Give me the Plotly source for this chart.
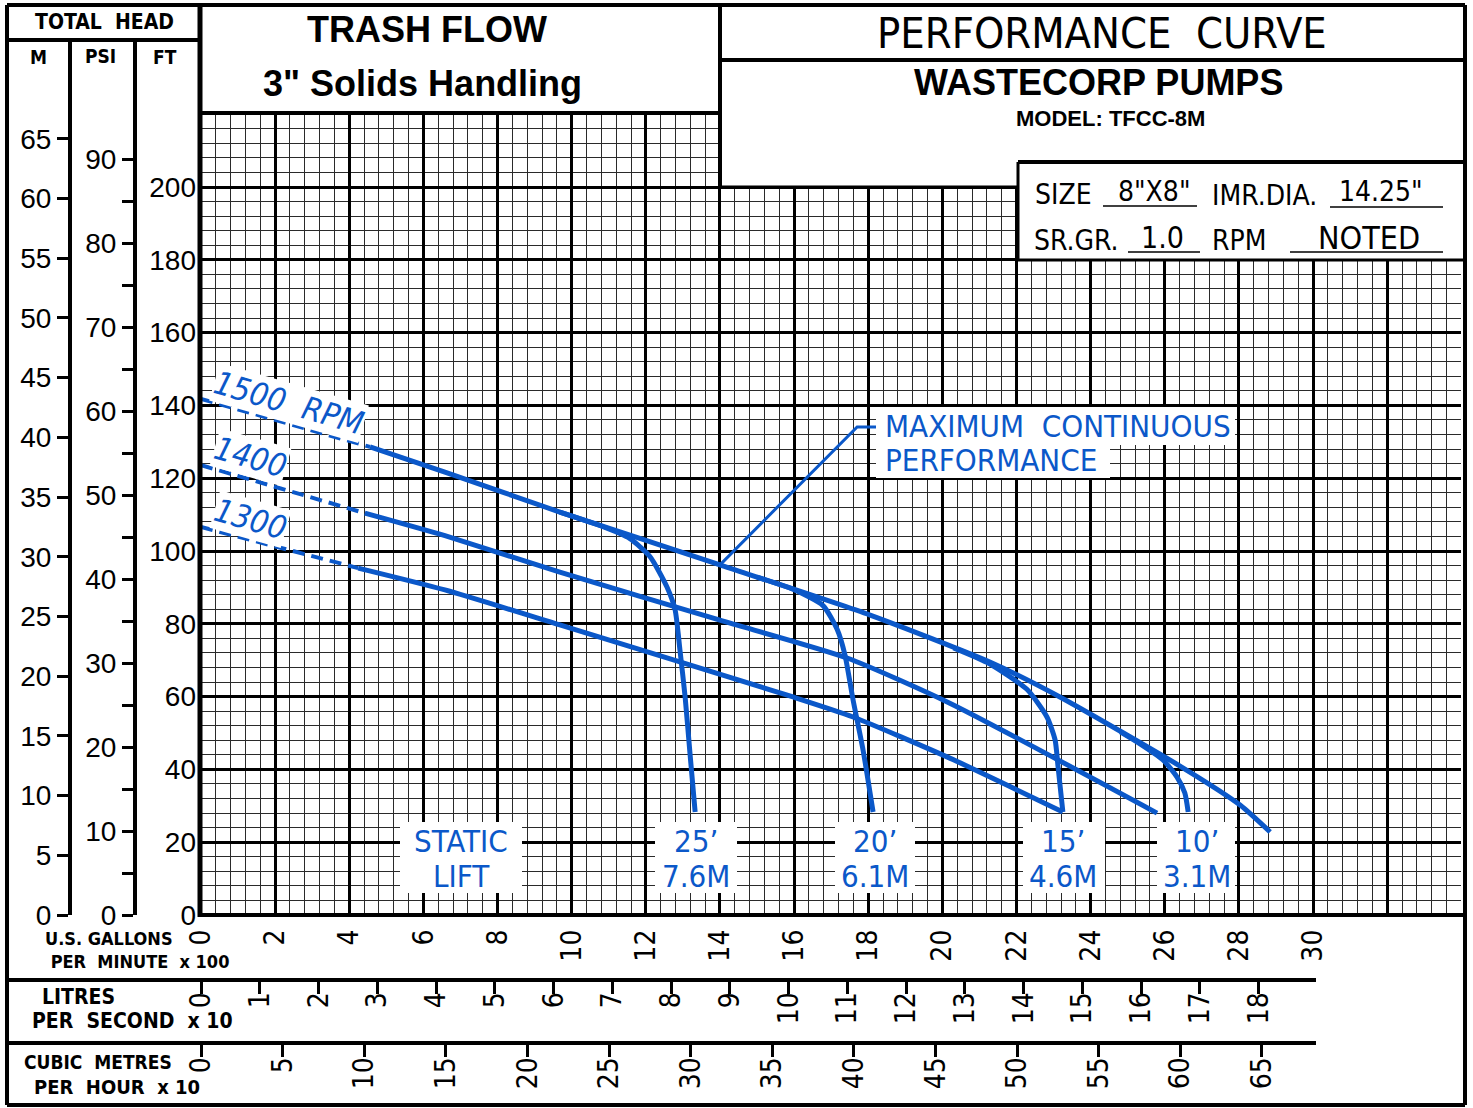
import plotly.graph_objects as go

W, H = 1473, 1108

# ---------------- data ----------------
# flow in US gallons per minute x 100, head in feet
rpm1500_dash_q = [0.0, 4.56]
rpm1500_dash_h = [141.8, 128.6]
rpm1500_q = [4.56, 6.58, 9.68, 14.0, 18.05, 21.28, 23.17, 26.41, 28.03, 28.84]
rpm1500_h = [128.6, 121.7, 110.7, 96.2, 82.4, 69.5, 59.9, 40.9, 30.2, 22.8]

rpm1400_dash_q = [0.0, 4.42]
rpm1400_dash_h = [123.6, 110.4]
rpm1400_q = [4.42, 6.58, 9.68, 14.0, 17.43, 20.2, 25.79]
rpm1400_h = [110.4, 104.2, 94.2, 81.0, 70.6, 58.2, 28.0]

rpm1300_dash_q = [0.0, 4.24]
rpm1300_dash_h = [106.6, 95.3]
rpm1300_q = [4.24, 6.58, 9.68, 15.97, 17.59, 20.2, 23.25]
rpm1300_h = [95.3, 89.3, 79.7, 59.9, 54.4, 43.1, 28.3]

# maximum continuous performance limits for each static lift
lift25_q = [9.68, 10.76, 11.57, 12.11, 12.57, 12.79, 12.92, 13.06, 13.19, 13.33]
lift25_h = [110.7, 107.0, 103.4, 98.5, 90.1, 83.8, 72.8, 59.9, 44.5, 28.3]
lift20_q = [15.0, 15.97, 16.78, 17.16, 17.37, 17.59, 17.86, 18.13]
lift20_h = [92.8, 89.5, 85.0, 78.5, 71.5, 59.1, 45.3, 28.3]
lift15_q = [20.3, 21.2, 22.28, 22.82, 23.04, 23.12, 23.25]
lift15_h = [73.4, 69.4, 62.0, 54.4, 48.1, 40.7, 28.3]
lift10_q = [24.8, 25.3, 25.95, 26.33, 26.54, 26.63]
lift10_h = [50.3, 47.2, 42.6, 37.9, 33.5, 28.3]

leader_q = [14.0, 17.70, 18.27]
leader_h = [96.2, 134.1, 134.1]

gpm_ticks = list(range(0, 31, 2))
lps_ticks = list(range(0, 19))
m3h_ticks = list(range(0, 66, 5))
ft_ticks = list(range(0, 201, 20))
m_ticks = list(range(0, 66, 5))
psi_ticks = list(range(0, 91, 5))

speed_labels = ["1500\u00a0\u00a0RPM", "1400", "1300"]
lift_labels = [("25\u2019", "7.6M"), ("20\u2019", "6.1M"), ("15\u2019", "4.6M"), ("10\u2019", "3.1M")]

# ---------------- geometry ----------------
X0, PXU = 201.0, 37.07      # pixel of zero flow, pixels per 100 gpm
Y0, PXF = 915.0, 3.64       # pixel of zero head, pixels per foot
QMAX, HMAX = 34, 220
GPM_PER_LPS10 = 1.58503      # 10 L/s in (gpm x 100)
GPM_PER_M3H10 = 0.4402868    # 10 m3/h in (gpm x 100)
FT_PER_M = 3.28084
FT_PER_PSI = 2.30666

def px(x):
    return x / W

def py(y):
    return 1 - y / H

def dq(xp):
    return (xp - X0) / PXU

def dh(yp):
    return (Y0 - yp) / PXF

BLUE = "#0b58c9"
NARROW = "Liberation Sans Narrow, DejaVu Sans Condensed, Arial Narrow, Roboto Condensed, Roboto, sans-serif"
SANS = "Liberation Sans, Arial, Helvetica, sans-serif"

fig = go.Figure()

def curve(q, h, width=5, dash=None):
    fig.add_trace(go.Scatter(
        x=q, y=h, mode="lines",
        line=dict(color=BLUE, width=width, dash=dash, shape="spline", smoothing=0.6),
        hoverinfo="skip", showlegend=False))

for dq_, dh_, q, h in [
    (rpm1500_dash_q, rpm1500_dash_h, rpm1500_q, rpm1500_h),
    (rpm1400_dash_q, rpm1400_dash_h, rpm1400_q, rpm1400_h),
    (rpm1300_dash_q, rpm1300_dash_h, rpm1300_q, rpm1300_h),
]:
    curve(dq_, dh_, width=4, dash="12px,7px")
    curve(q, h, width=5)

for q, h in [(lift25_q, lift25_h), (lift20_q, lift20_h),
             (lift15_q, lift15_h), (lift10_q, lift10_h)]:
    curve(q, h, width=5)

fig.add_trace(go.Scatter(x=leader_q, y=leader_h, mode="lines",
                         line=dict(color=BLUE, width=3),
                         hoverinfo="skip", showlegend=False))

# anchor traces for the auxiliary scales
for xa, ya in [("x2", "y4"), ("x3", "y4"), ("x4", "y2"), ("x4", "y3")]:
    fig.add_trace(go.Scatter(x=[0], y=[0], xaxis=xa, yaxis=ya, mode="markers",
                             marker=dict(opacity=0), hoverinfo="skip", showlegend=False))

# ---------------- axes ----------------
num_font = dict(family=SANS, size=28, color="black")
rot_font = dict(family=NARROW, size=28, color="black")

gx_vals = list(range(0, QMAX + 1, 2))
gy_vals = list(range(0, HMAX + 1, 20))

fig.update_layout(
    xaxis=dict(
        domain=[px(X0), px(X0 + QMAX * PXU)], range=[0, QMAX], anchor="y",
        tickmode="array", tickvals=gx_vals,
        ticktext=[str(v) if v in gpm_ticks else "" for v in gx_vals],
        ticks="", tickangle=-90, tickfont=rot_font, ticklabelstandoff=8,
        showgrid=True, gridcolor="black", gridwidth=3,
        minor=dict(tickmode="linear", tick0=0, dtick=0.4, showgrid=True,
                   gridcolor="#2a2a2a", gridwidth=1.4),
        zeroline=False, showline=False, fixedrange=True,
    ),
    yaxis=dict(
        domain=[py(Y0), py(Y0 - HMAX * PXF)], range=[0, HMAX], anchor="x",
        tickmode="array", tickvals=gy_vals,
        ticktext=[str(v) if v in ft_ticks else "" for v in gy_vals],
        ticks="", tickfont=num_font, ticklabelstandoff=4,
        showgrid=True, gridcolor="black", gridwidth=3,
        minor=dict(tickmode="linear", tick0=0, dtick=4, showgrid=True,
                   gridcolor="#2a2a2a", gridwidth=1.4),
        zeroline=False, showline=False, fixedrange=True,
    ),
    xaxis2=dict(
        domain=[px(7), px(1316)],
        range=[(7 - X0) / (PXU * GPM_PER_LPS10), (1316 - X0) / (PXU * GPM_PER_LPS10)],
        anchor="free", position=py(980), side="bottom",
        showline=True, linewidth=4, linecolor="black",
        ticks="outside", ticklen=12, tickwidth=3, tickcolor="black",
        tickmode="array", tickvals=lps_ticks, tickangle=-90, tickfont=rot_font,
        ticklabelstandoff=-13,
        showgrid=False, zeroline=False, fixedrange=True,
    ),
    xaxis3=dict(
        domain=[px(7), px(1316)],
        range=[(7 - X0) / (PXU * GPM_PER_M3H10), (1316 - X0) / (PXU * GPM_PER_M3H10)],
        anchor="free", position=py(1043), side="bottom",
        showline=True, linewidth=4, linecolor="black",
        ticks="outside", ticklen=12, tickwidth=3, tickcolor="black",
        tickmode="array", tickvals=m3h_ticks, tickangle=-90, tickfont=rot_font,
        ticklabelstandoff=-11,
        showgrid=False, zeroline=False, fixedrange=True,
    ),
    xaxis4=dict(domain=[0, 0.005], range=[0, 1], visible=False, anchor="y4"),
    yaxis4=dict(domain=[0, 0.005], range=[0, 1], visible=False, anchor="x4"),
    yaxis2=dict(
        domain=[py(Y0), py(40)], range=[0, (Y0 - 40) / (PXF * FT_PER_M)],
        anchor="free", position=px(70), side="left",
        showline=True, linewidth=4, linecolor="black",
        ticks="outside", ticklen=11, tickwidth=3, tickcolor="black",
        tickmode="array", tickvals=m_ticks, tickfont=num_font,
        showgrid=False, zeroline=False, fixedrange=True,
    ),
    yaxis3=dict(
        domain=[py(Y0), py(40)], range=[0, (Y0 - 40) / (PXF * FT_PER_PSI)],
        anchor="free", position=px(135), side="left",
        showline=True, linewidth=4, linecolor="black",
        ticks="outside", ticklen=11, tickwidth=3, tickcolor="black",
        tickmode="array", tickvals=psi_ticks,
        ticktext=[str(v) if v % 10 == 0 else "" for v in psi_ticks],
        tickfont=num_font,
        showgrid=False, zeroline=False, fixedrange=True,
    ),
)

# ---------------- frame and title block ----------------
shapes = []

def pline(x0, y0, x1, y1, w=4):
    shapes.append(dict(type="line", xref="paper", yref="paper",
                       x0=px(x0), y0=py(y0), x1=px(x1), y1=py(y1),
                       line=dict(color="black", width=w), layer="above"))

def prect(x0, y0, x1, y1):
    shapes.append(dict(type="rect", xref="paper", yref="paper",
                       x0=px(x0), y0=py(y0), x1=px(x1), y1=py(y1),
                       fillcolor="white", line=dict(width=0), layer="above"))

def drect(x0, y0, x1, y1):
    shapes.append(dict(type="rect", xref="x", yref="y", x0=x0, y0=y0, x1=x1, y1=y1,
                       fillcolor="white", line=dict(width=0), layer="above"))

# white title areas laid over the chart paper
prect(720, 100, 1470, 186)
prect(1018, 150, 1470, 259)

# knock-out boxes for the in-chart labels
for x0p, x1p in [(400, 522), (655, 737), (835, 915), (1023, 1105), (1157, 1235)]:
    drect(dq(x0p), dh(893), dq(x1p), dh(822))
drect(dq(876), dh(445), dq(1235), dh(407))
drect(dq(876), dh(478), dq(1110), dh(445))

pline(7, 5, 1465, 5)
pline(7, 1105, 1465, 1105)
pline(7, 5, 7, 1105)
pline(1465, 5, 1465, 1105)
pline(7, 40, 200, 40)
pline(200, 5, 200, 917, w=5)
pline(200, 113, 720, 113)
pline(720, 5, 720, 187)
pline(720, 60, 1465, 60)
pline(720, 187, 1018, 187, w=3)
pline(1018, 162, 1465, 162)
pline(1018, 162, 1018, 260, w=3)
pline(1018, 260, 1465, 260, w=3)
pline(200, 915, 1463, 915, w=4)

# underlines in the information box
for x0p, x1p, yp in [(1103, 1197, 206), (1330, 1443, 207), (1128, 1200, 252), (1290, 1443, 252)]:
    pline(x0p, yp, x1p, yp, w=1.5)

fig.update_layout(shapes=shapes)

# ---------------- text ----------------
ann = []

def ptext(text, x, y, size, family=NARROW, weight="normal", xanchor="center", color="black"):
    ann.append(dict(text=text, xref="paper", yref="paper", x=px(x), y=py(y),
                    xanchor=xanchor, yanchor="middle", showarrow=False, align="left",
                    font=dict(family=family, size=size, color=color, weight=weight)))

ptext("TOTAL\u00a0\u00a0HEAD", 105, 22, 21, weight="bold")
ptext("M", 38, 57, 19, weight="bold")
ptext("PSI", 100, 56, 19, weight="bold")
ptext("FT", 165, 57, 19, weight="bold")

ptext("TRASH FLOW", 427, 29, 36, family=SANS, weight="bold")
ptext("3\" Solids Handling", 422, 84, 36, family=SANS, weight="bold")
ptext("PERFORMANCE\u00a0\u00a0CURVE", 1102, 33, 43)
ptext("WASTECORP PUMPS", 1098, 83, 36, family=SANS, weight="bold")
ptext("MODEL: TFCC-8M", 1110, 119, 22, family=SANS, weight="bold")

ptext("SIZE", 1033, 194, 28, xanchor="left")
ptext("8\"X8\"", 1154, 191, 28)
ptext("IMR.DIA.", 1210, 196, 28, xanchor="left")
ptext("14.25\"", 1381, 191, 28)
ptext("SR.GR.", 1032, 241, 28, xanchor="left")
ptext("1.0", 1162, 238, 30)
ptext("RPM", 1210, 241, 28, xanchor="left")
ptext("NOTED", 1369, 238, 32)

ptext("U.S.\u00a0GALLONS<br>\u00a0PER\u00a0\u00a0MINUTE\u00a0\u00a0x\u00a0100", 43, 950, 18,
      weight="bold", xanchor="left")
ptext("LITRES", 40, 997, 21, weight="bold", xanchor="left")
ptext("PER\u00a0\u00a0SECOND\u00a0\u00a0x\u00a010", 30, 1021, 21, weight="bold", xanchor="left")
ptext("CUBIC\u00a0\u00a0METRES", 22, 1062, 19, weight="bold", xanchor="left")
ptext("PER\u00a0\u00a0HOUR\u00a0\u00a0x\u00a010", 32, 1087, 20, weight="bold", xanchor="left")

def dtext(text, q, h, size, xanchor="center", angle=0, bg=None, italic=False):
    ann.append(dict(text=text, xref="x", yref="y", x=q, y=h,
                    xanchor=xanchor, yanchor="middle", showarrow=False,
                    textangle=angle, bgcolor=bg, borderpad=0,
                    font=dict(family=NARROW, size=size, color=BLUE,
                              style="italic" if italic else "normal")))

# speed labels along the dashed ends
for label, (xp, yp) in zip(speed_labels, [(289, 403), (250, 457), (250, 519)]):
    dtext(label, dq(xp), dh(yp), 32, angle=16, bg="white", italic=True)

dtext("MAXIMUM\u00a0\u00a0CONTINUOUS", dq(884), dh(426), 31, xanchor="left")
dtext("PERFORMANCE", dq(884), dh(460), 31, xanchor="left")

dtext("STATIC", dq(461), dh(841), 31)
dtext("LIFT", dq(461), dh(876), 31)
for (top, bottom), xp in zip(lift_labels, [696, 875, 1063, 1197]):
    dtext(top, dq(xp), dh(841), 31)
    dtext(bottom, dq(xp), dh(876), 31)

fig.update_layout(
    annotations=ann,
    width=W, height=H, autosize=False,
    margin=dict(l=0, r=0, t=0, b=0, pad=0),
    paper_bgcolor="white", plot_bgcolor="rgba(0,0,0,0)",
    template="none", showlegend=False,
)

fig.write_html("out.html", config={"displayModeBar": False})
